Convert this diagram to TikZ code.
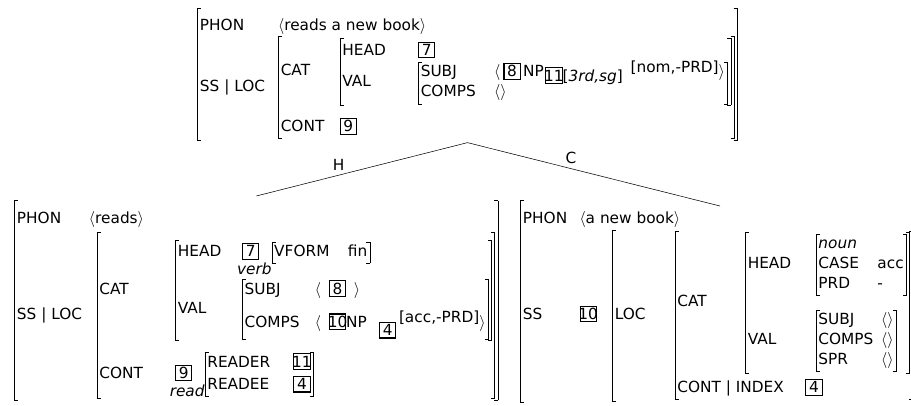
\documentclass[tikz,border=0pt]{standalone}
\usepackage{fontspec}
\setmainfont{DejaVu Sans}
\usetikzlibrary{positioning}

\setlength{\fboxsep}{1.2pt}
\setlength{\fboxrule}{0.8pt}
\setlength{\tabcolsep}{0pt}
\newsavebox{\avmbox}
\newcommand{\tagbox}[1]{\fbox{\makebox[0.78em]{#1}}}
\newcommand{\rowgap}[1]{\noalign{\vskip#1}}
\newcommand{\brk}{\raisebox{-\dimexpr\dp\avmbox+1pt\relax}{\vbox{\hrule width 3pt height .6pt
			\hbox{\vrule width .6pt height \dimexpr\ht\avmbox+\dp\avmbox+.8pt\relax}
			\hrule width 3pt height .6pt}}}
\newcommand{\brkr}{\raisebox{-\dimexpr\dp\avmbox+1pt\relax}{\vbox{\hrule width 3pt height .6pt
			\hbox{\kern2.4pt\vrule width .6pt height \dimexpr\ht\avmbox+\dp\avmbox+.8pt\relax}
			\hrule width 3pt height .6pt}}}
\newcommand{\avm}[2][1em]{\sbox{\avmbox}{\begin{tabular}{@{}l@{\hspace{#1}}l@{}}#2\end{tabular}}%
	\ensuremath{\vcenter{\hbox{\brk\kern-1pt\usebox{\avmbox}\kern-.6pt\brkr}}}}
\newcommand{\typed}[1]{\makebox[0pt][r]{\raisebox{-2.1ex}{\textit{#1}}}}
\newcommand{\lst}[1]{$\langle$#1$\rangle$}

\begin{document}
\begin{tikzpicture}[
		x=0.75pt, y=-0.75pt,
		fs/.style={inner sep=0pt, anchor=north west, font=\fontsize{11.5}{15}\selectfont},
		branch/.style={thin},
		lbl/.style={above, font=\fontsize{11.5}{14}\selectfont}
		]
		\useasboundingbox (0,0) rectangle (911,405);
		
		% Mother
		\node[fs] (mother) at (197,8) {\avm[0.85em]{\rowgap{5pt}PHON & \lst{reads a new book}\\
				SS | LOC & \avm[1em]{CAT & \avm[2.1em]{\rowgap{2pt}HEAD & \tagbox{7}\\
						VAL & \avm[1.2em]{SUBJ & \lst{\hspace{0.2em}\tagbox{8}\hspace{0.15em}NP\hspace{0.1em}\smash{\raisebox{-0.5ex}{\tagbox{11}[\textit{3rd,sg}]}}\hspace{0.5em}\smash{\raisebox{0.5ex}{[nom,-PRD]}}}\\
							COMPS & \lst{}}}\\\rowgap{9pt}
					CONT & \tagbox{9}}}};
		
		% Head daughter
		\node[fs] (headdtr) at (14,200) {\avm[0.45em]{\rowgap{6pt}PHON & \lst{reads}\\\rowgap{2pt}
				SS | LOC & \hspace{0.5em}\avm[2.1em]{\rowgap{5pt}CAT & \avm[1.35em]{HEAD & \tagbox{7}\hspace{0.8em}\typed{verb}\avm[1.2em]{VFORM & fin}\\\rowgap{3pt}
						VAL & \avm[1em]{SUBJ & \lst{\hspace{0.5em}\tagbox{8}\hspace{0.5em}}\\\rowgap{8pt}
							COMPS & \lst{\hspace{0.5em}\tagbox{10}NP\hspace{0.8em}\raisebox{-1ex}{\tagbox{4}}\,\raisebox{0.6ex}{[acc,-PRD]}}}}\\\rowgap{8pt}
					CONT & \tagbox{9}\hspace{0.8em}\typed{read}\avm[1.5em]{READER & \tagbox{11}\\\rowgap{2pt}
						READEE & \tagbox{4}}}\\\rowgap{1pt}}};
		
		% Complement daughter
		\node[fs] (compdtr) at (520,200) {\avm[0.8em]{\rowgap{6pt}PHON & \lst{a new book}\\
				SS & \tagbox{10}\hspace{1em}\avm[1.9em]{LOC & \avm[2.5em]{CAT & \avm[1.6em]{HEAD & \avm[1.2em]{\multicolumn{2}{@{}l@{}}{\textit{noun}}\\
								CASE & acc\\
								PRD & -}\\\rowgap{10pt}
							VAL & \avm[0.5em]{SUBJ & \lst{}\\
								COMPS & \lst{}\\
								SPR & \lst{}}}\\\rowgap{4pt}
						\multicolumn{2}{@{}l@{}}{CONT | INDEX\hspace{1.4em}\tagbox{4}}}}}};
		
		% Branches
		\draw[branch] ([yshift=3pt]headdtr.north) -- node[lbl, pos=.39]{H} ([yshift=-1.5pt]mother.south);
		\draw[branch] ([yshift=-1.5pt]mother.south) -- node[lbl, pos=.41]{C} ([yshift=-4.5pt]compdtr.north);
		
	\end{tikzpicture}
\end{document}
